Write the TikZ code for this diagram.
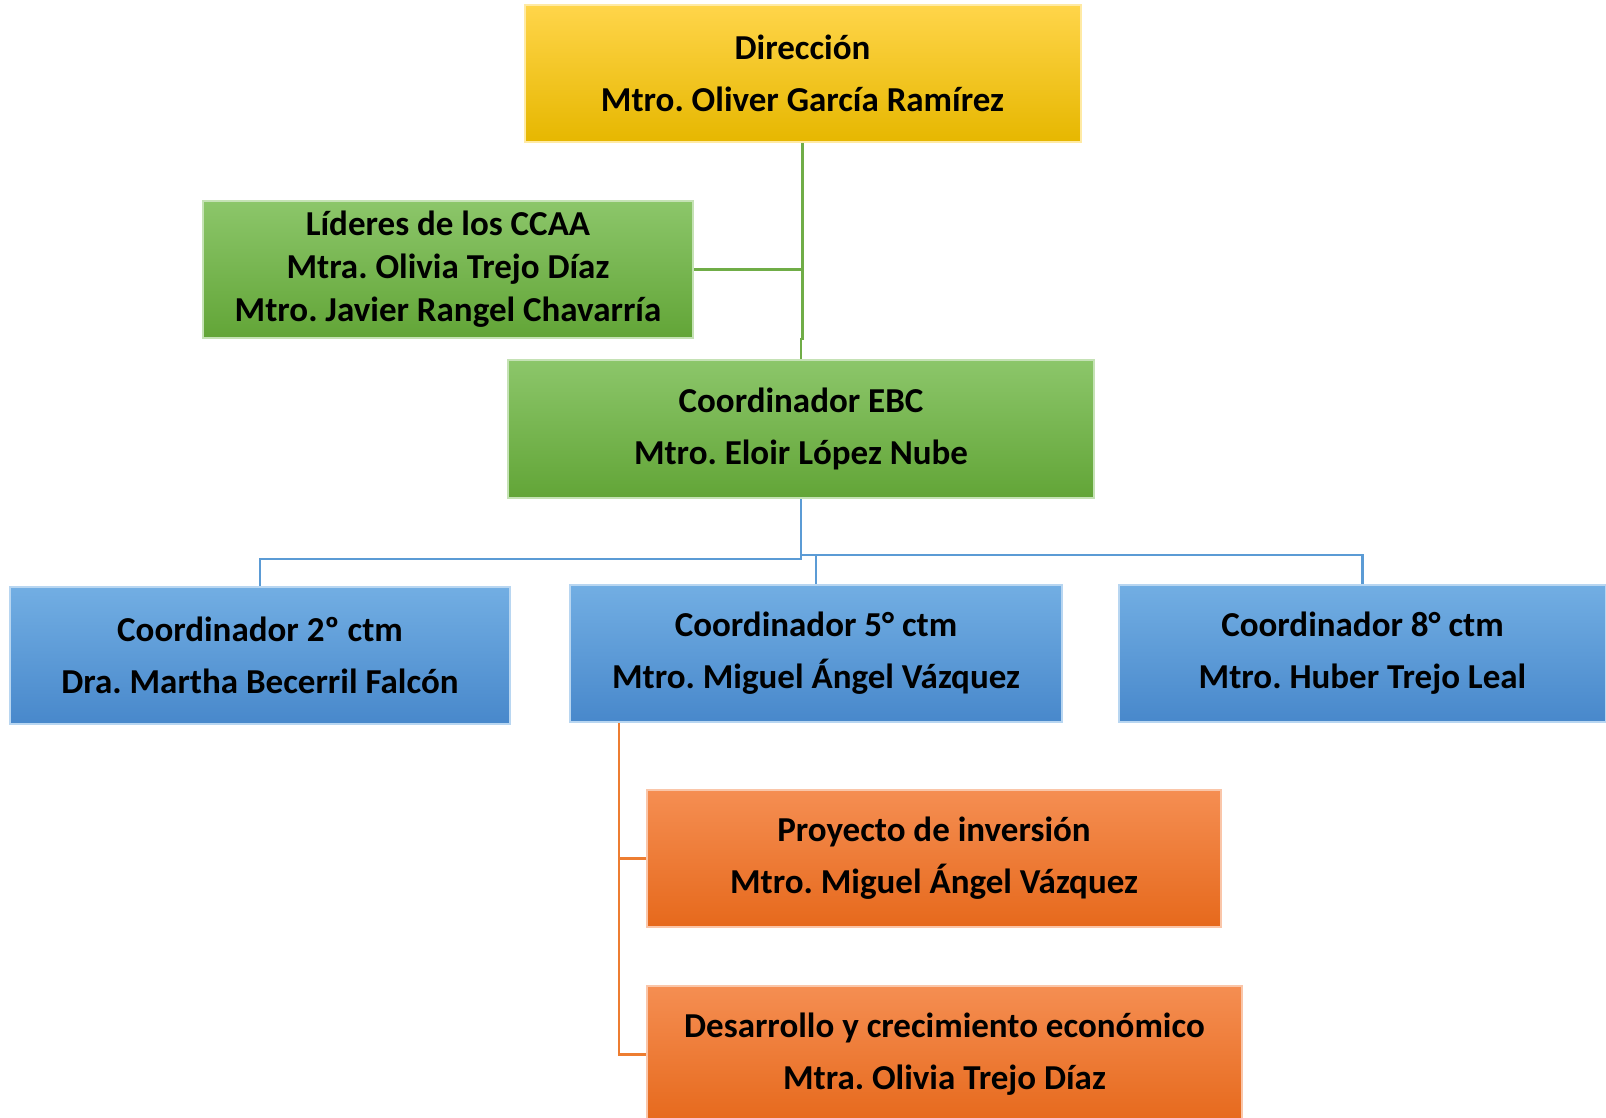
\documentclass[tikz,border=0pt]{standalone}
\usepackage{fontspec}
\setmainfont{Carlito}
\usepackage{tikz}
\usetikzlibrary{calc}
\frenchspacing
\definecolor{cYelTop}{HTML}{FFD54A}
\definecolor{cYelMid}{HTML}{FFC50A}
\definecolor{cYelBot}{HTML}{E6B700}
\definecolor{cGrnTop}{HTML}{8CC66A}
\definecolor{cGrnMid}{HTML}{72B347}
\definecolor{cGrnBot}{HTML}{62A537}
\definecolor{cBluTop}{HTML}{72AEE3}
\definecolor{cBluMid}{HTML}{5A9BD8}
\definecolor{cBluBot}{HTML}{4888CB}
\definecolor{cOrgTop}{HTML}{F58E52}
\definecolor{cOrgMid}{HTML}{F07A30}
\definecolor{cOrgBot}{HTML}{E6691C}
\definecolor{cGrnLn}{HTML}{70AD47}
\definecolor{cBluLn}{HTML}{5B9BD5}
\definecolor{cOrgLn}{HTML}{ED7D31}
\tikzset{
  orgbox/.style={rectangle, align=center, inner sep=0pt, line width=1pt,
                 font=\fontsize{17.5}{26}\selectfont\bfseries, text=black},
  yelbox/.style={orgbox, top color=cYelTop, middle color=cYelMid, bottom color=cYelBot, draw=cYelTop!50!white},
  grnbox/.style={orgbox, top color=cGrnTop, middle color=cGrnMid, bottom color=cGrnBot, draw=cGrnTop!50!white},
  blubox/.style={orgbox, top color=cBluTop, middle color=cBluMid, bottom color=cBluBot, draw=cBluTop!50!white},
  orgbx/.style={orgbox, top color=cOrgTop, middle color=cOrgMid, bottom color=cOrgBot, draw=cOrgTop!50!white},
  lnG/.style={draw=cGrnLn, line width=1.1pt},
  lnB/.style={draw=cBluLn, line width=1.1pt},
  lnO/.style={draw=cOrgLn, line width=1.1pt},
}

\begin{document}
\begin{tikzpicture}[x=0.5pt, y=-0.5pt]
  \useasboundingbox (0,0) rectangle (1606,1118);

  \node[yelbox, minimum width=278pt, minimum height=68.5pt] (dir) at (802.5,73.5)
    {Dirección\\Mtro. Oliver García Ramírez};
  \node[grnbox, minimum width=245pt, minimum height=68.5pt,
        font=\fontsize{17.5}{21.5}\selectfont\bfseries] (lid) at (448,269.5)
    {\rule{0pt}{8pt}Líderes de los CCAA\\Mtra. Olivia Trejo Díaz\\Mtro. Javier Rangel Chavarría};
  \node[grnbox, minimum width=293pt, minimum height=69pt] (ebc) at (801,429)
    {Coordinador EBC\\Mtro. Eloir López Nube};

  \node[blubox, minimum width=250pt, minimum height=68.5pt] (c2) at (260,655.5)
    {Coordinador 2º ctm\\Dra. Martha Becerril Falcón};
  \node[blubox, minimum width=246pt, minimum height=68.5pt] (c5) at (816,653.5)
    {Coordinador 5° ctm\\Mtro. Miguel Ángel Vázquez};
  \node[blubox, minimum width=243.5pt, minimum height=68.5pt] (c8) at (1362.5,653.5)
    {Coordinador 8° ctm\\Mtro. Huber Trejo Leal};

  \node[orgbx, minimum width=287pt, minimum height=68.5pt] (proy) at (934,858.5)
    {Proyecto de inversión\\Mtro. Miguel Ángel Vázquez};
  \node[orgbx, minimum width=297.5pt, minimum height=68.5pt] (des) at (944.5,1054.5)
    {Desarrollo y crecimiento económico\\Mtra. Olivia Trejo Díaz};

  % green links
  \draw[lnG] (dir.south) -- (dir.south |- lid.south) -| (ebc.north);
  \draw[lnG] (lid.east) -- (lid.east -| dir.south);

  % blue links
  \draw[lnB] (ebc.south) -- ++(0,60) -| (c2.north);
  \draw[lnB] (ebc.south) ++(0,56) -| (c5.north);
  \draw[lnB] (ebc.south) ++(0,56) -| (c8.north);

  % orange links
  \coordinate (o5) at ($(c5.south west)+(50,0)$);
  \draw[lnO] (o5) |- (proy.west);
  \draw[lnO] (o5) |- (des.west);
\end{tikzpicture}
\end{document}
